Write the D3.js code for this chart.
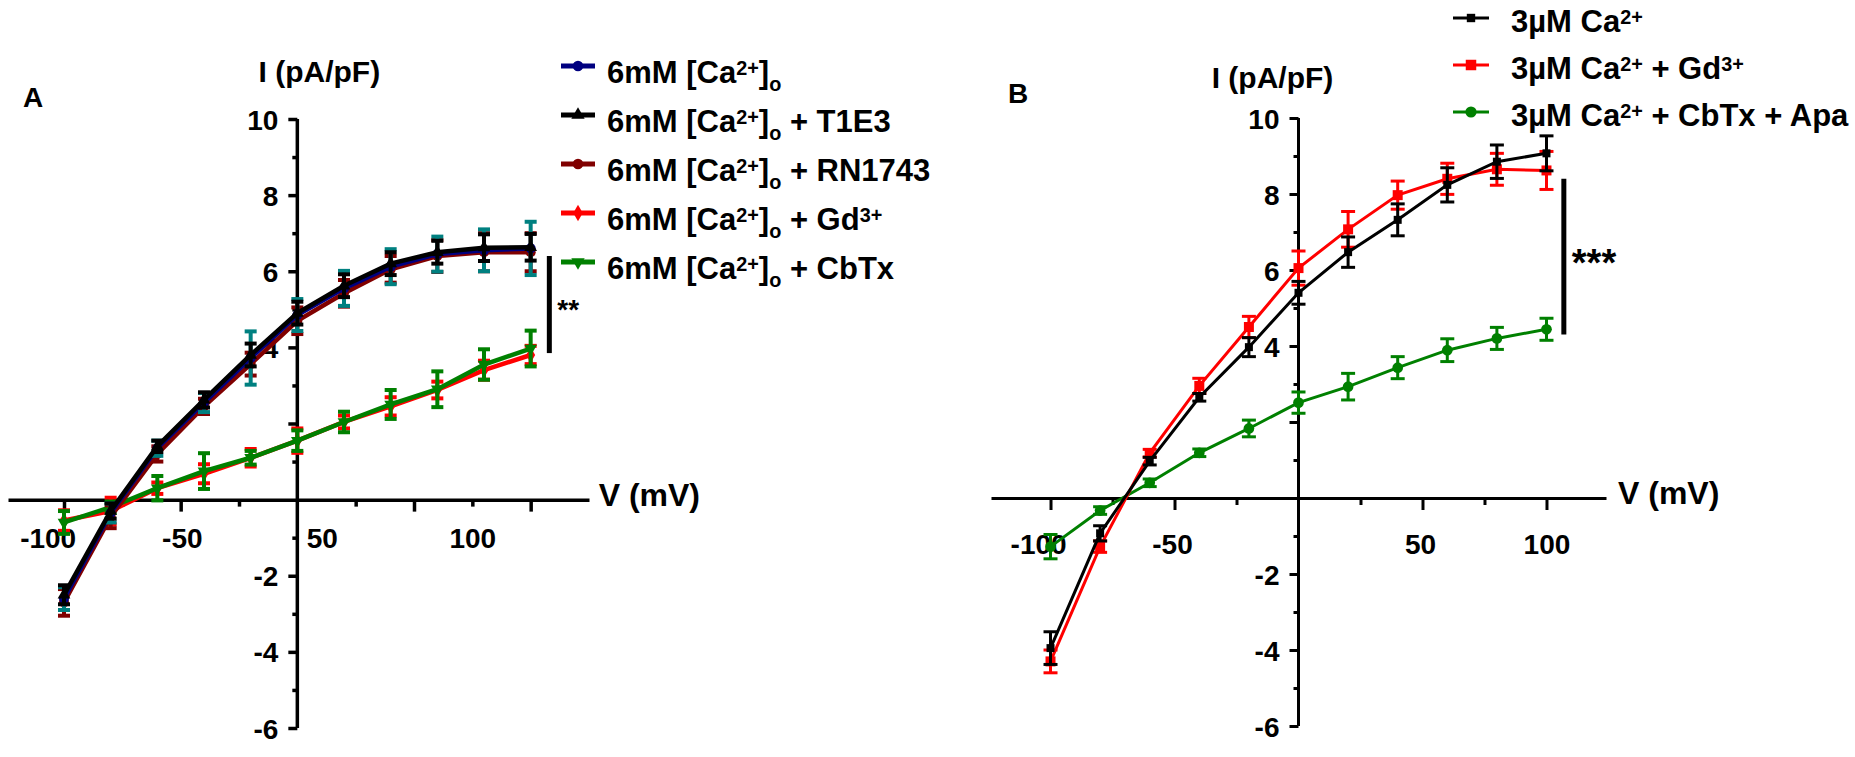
<!DOCTYPE html>
<html>
<head>
<meta charset="utf-8">
<script src="https://cdn.jsdelivr.net/npm/d3@7"></script>
<style>
  body { margin: 0; background: #fff; }
  svg text { font-family: "Liberation Sans", Arial, Helvetica, sans-serif; font-weight: bold; fill: #000; }
</style>
</head>
<body>
<div id="container"></div>
<script>
// membrane potential steps (mV), shared by both panels
const voltages = [-100, -80, -60, -40, -20, 0, 20, 40, 60, 80, 100];

// panel A, current density (pA/pF) and SEM
const ca6Mean     = [-2.6, -0.35, 1.35, 2.55, 3.72, 4.85, 5.55, 6.12, 6.45, 6.55, 6.6];
const ca6Sem      = [0.3, 0.25, 0.2, 0.25, 0.7, 0.42, 0.46, 0.46, 0.46, 0.55, 0.7];
const t1e3Mean    = [-2.5, -0.3, 1.4, 2.62, 3.8, 4.9, 5.62, 6.2, 6.5, 6.62, 6.63];
const t1e3Sem     = [0.25, 0.2, 0.15, 0.2, 0.3, 0.3, 0.3, 0.3, 0.3, 0.35, 0.35];
const rn1743Mean  = [-2.7, -0.45, 1.2, 2.45, 3.56, 4.7, 5.42, 6.05, 6.4, 6.5, 6.5];
const rn1743Sem   = [0.35, 0.3, 0.2, 0.2, 0.3, 0.35, 0.35, 0.35, 0.42, 0.5, 0.5];
const gdAMean     = [-0.55, -0.3, 0.3, 0.68, 1.1, 1.55, 2.04, 2.45, 2.88, 3.4, 3.8];
const gdASem      = [0.27, 0.35, 0.15, 0.25, 0.23, 0.32, 0.17, 0.24, 0.22, 0.25, 0.24];
const cbtxAMean   = [-0.6, -0.2, 0.3, 0.75, 1.1, 1.55, 2.04, 2.5, 2.9, 3.55, 3.97];
const cbtxASem    = [0.3, 0.15, 0.32, 0.47, 0.18, 0.27, 0.27, 0.38, 0.47, 0.4, 0.47];

// panel B
const ca3Mean     = [-3.95, -0.93, 0.97, 2.65, 3.97, 5.4, 6.47, 7.32, 8.24, 8.85, 9.07];
const ca3Sem      = [0.43, 0.2, 0.1, 0.1, 0.25, 0.3, 0.4, 0.42, 0.45, 0.44, 0.46];
const gdBMean     = [-4.3, -1.28, 1.18, 2.95, 4.5, 6.05, 7.07, 7.97, 8.4, 8.65, 8.62];
const gdBSem      = [0.3, 0.15, 0.1, 0.2, 0.28, 0.45, 0.47, 0.37, 0.41, 0.42, 0.5];
const cbtxApaMean = [-1.28, -0.33, 0.4, 1.19, 1.83, 2.51, 2.93, 3.43, 3.89, 4.2, 4.44];
const cbtxApaSem  = [0.32, 0.1, 0.1, 0.1, 0.22, 0.28, 0.35, 0.29, 0.3, 0.29, 0.29];

// axis ticks and labels
const yMajor = [-6, -4, -2, 2, 4, 6, 8, 10];
const yMinor = [-5, -3, -1, 1, 3, 5, 7, 9];
const yLabels = [10, 8, 6, 4, -2, -4, -6];
const xMajor = [-100, -50, 50, 100];
const xMinor = [-75, -25, 25, 75];
const xLabels = ["-100", "-50", "50", "100"];
const xLabelAtA = [-107, -49.5, 10.5, 75];   // where panel A prints its labels
const xLabelAtB = [-105, -51, 49, 100];

// legends, parts: [text, "sup" | "sub"]
const legendA = [
  [["6mM [Ca"], ["2+", "sup"], ["]"], ["o", "sub"]],
  [["6mM [Ca"], ["2+", "sup"], ["]"], ["o", "sub"], [" + T1E3"]],
  [["6mM [Ca"], ["2+", "sup"], ["]"], ["o", "sub"], [" + RN1743"]],
  [["6mM [Ca"], ["2+", "sup"], ["]"], ["o", "sub"], [" + Gd"], ["3+", "sup"]],
  [["6mM [Ca"], ["2+", "sup"], ["]"], ["o", "sub"], [" + CbTx"]]
];
const legendB = [
  [["3\u00b5M Ca"], ["2+", "sup"]],
  [["3\u00b5M Ca"], ["2+", "sup"], [" + Gd"], ["3+", "sup"]],
  [["3\u00b5M Ca"], ["2+", "sup"], [" + CbTx + Apa"]]
];

const W = 1855, H = 757;

const svg = d3.select("#container")
  .append("svg")
  .attr("width", W)
  .attr("height", H)
  .style("display", "block");

svg.append("rect").attr("width", W).attr("height", H).attr("fill", "#fff");

function richText(sel, parts, size) {
  let shift = 0;
  parts.forEach(([t, kind]) => {
    const target = kind === "sup" ? -size * 0.27 : kind === "sub" ? size * 0.25 : 0;
    sel.append("tspan")
      .attr("dy", target - shift)
      .attr("font-size", kind ? size * 0.64 : size)
      .text(t);
    shift = target;
  });
}

function drawAxes(p) {
  const x0 = p.x(0), y0 = p.y(0);

  // y axis
  const ya = svg.append("g")
    .attr("transform", "translate(" + x0 + ",0)")
    .call(d3.axisLeft(p.y).tickValues(yMajor).tickSize(9).tickSizeOuter(0)
      .tickFormat(d => yLabels.includes(d) ? String(d) : ""));
  ya.select(".domain").attr("stroke-width", p.axisW).attr("d", "M0," + p.y(10) + "V" + p.y(-6));
  ya.selectAll(".tick line").attr("stroke-width", p.axisW);
  ya.selectAll(".tick text").attr("x", -19).attr("font-size", 28).attr("dy", "0.36em");

  const ym = svg.append("g")
    .attr("transform", "translate(" + x0 + ",0)")
    .call(d3.axisLeft(p.y).tickValues(yMinor).tickSize(5).tickFormat(""));
  ym.select(".domain").remove();
  ym.selectAll(".tick line").attr("stroke-width", p.axisW);

  // x axis
  const xa = svg.append("g")
    .attr("transform", "translate(0," + y0 + ")")
    .call(d3.axisBottom(p.x).tickValues(xMajor).tickSize(12).tickSizeOuter(0).tickFormat(""));
  xa.select(".domain").attr("stroke-width", p.axisW);
  xa.selectAll(".tick line").attr("stroke-width", p.axisW);

  const xm = svg.append("g")
    .attr("transform", "translate(0," + y0 + ")")
    .call(d3.axisBottom(p.x).tickValues(xMinor).tickSize(7).tickFormat(""));
  xm.select(".domain").remove();
  xm.selectAll(".tick line").attr("stroke-width", p.axisW);

  const xl = svg.append("g")
    .attr("transform", "translate(0," + y0 + ")")
    .call(d3.axisBottom(p.x).tickValues(p.labelAt).tickSize(0)
      .tickFormat((d, i) => xLabels[i]));
  xl.select(".domain").remove();
  xl.selectAll(".tick text").attr("y", p.labelDrop).attr("dy", null).attr("font-size", 28);

  // titles
  svg.append("text")
    .attr("x", x0 + p.titleDx).attr("y", p.titleY)
    .attr("text-anchor", "middle").attr("font-size", 30)
    .text("I (pA/pF)");
  svg.append("text")
    .attr("x", p.x(124) + 12).attr("y", y0 + 6)
    .attr("font-size", 32)
    .text("V (mV)");
  svg.append("text")
    .attr("x", p.letterX).attr("y", p.letterY)
    .attr("font-size", 28)
    .text(p.letter);
}

function drawSeries(p, s) {
  const g = svg.append("g");
  const pts = voltages.map((v, i) => ({ v: v, m: s.mean[i], e: s.sem[i] }));

  g.append("path")
    .datum(pts)
    .attr("fill", "none")
    .attr("stroke", s.color)
    .attr("stroke-width", p.lineW)
    .attr("d", d3.line().x(d => p.x(d.v)).y(d => p.y(d.m)));

  const eb = g.selectAll(".err").data(pts).enter().append("g")
    .attr("stroke", s.errColor || s.color)
    .attr("stroke-width", p.errW);
  eb.append("line")
    .attr("x1", d => p.x(d.v)).attr("x2", d => p.x(d.v))
    .attr("y1", d => p.y(d.m + d.e)).attr("y2", d => p.y(d.m - d.e));
  eb.append("line")
    .attr("x1", d => p.x(d.v) - p.cap).attr("x2", d => p.x(d.v) + p.cap)
    .attr("y1", d => p.y(d.m + d.e)).attr("y2", d => p.y(d.m + d.e));
  eb.append("line")
    .attr("x1", d => p.x(d.v) - p.cap).attr("x2", d => p.x(d.v) + p.cap)
    .attr("y1", d => p.y(d.m - d.e)).attr("y2", d => p.y(d.m - d.e));

  g.selectAll(".pt").data(pts).enter().append("path")
    .attr("d", d3.symbol().type(s.symbol).size(s.size))
    .attr("transform", d => "translate(" + p.x(d.v) + "," + p.y(d.m) + ")" + (s.flip ? " rotate(180)" : ""))
    .attr("fill", s.color);
}

function drawLegend(items, lg) {
  items.forEach((s, i) => {
    const base = lg.y0 + i * lg.step;
    const ly = base - lg.lineUp;
    svg.append("line")
      .attr("x1", lg.x1).attr("x2", lg.x2)
      .attr("y1", ly).attr("y2", ly)
      .attr("stroke", s.color).attr("stroke-width", lg.lineW);
    svg.append("path")
      .attr("d", d3.symbol().type(s.symbol).size(s.size * 1.1))
      .attr("transform", "translate(" + ((lg.x1 + lg.x2) / 2) + "," + ly + ")" + (s.flip ? " rotate(180)" : ""))
      .attr("fill", s.color);
    const t = svg.append("text")
      .attr("x", lg.tx).attr("y", base)
      .attr("font-size", lg.size);
    richText(t, s.label, lg.size);
  });
}

function sigBar(p, xv, top, bottom, stars, size) {
  svg.append("line")
    .attr("x1", p.x(xv)).attr("x2", p.x(xv))
    .attr("y1", p.y(top)).attr("y2", p.y(bottom))
    .attr("stroke", "#000").attr("stroke-width", 5);
  svg.append("text")
    .attr("x", p.x(xv) + 8)
    .attr("y", p.y((top + bottom) / 2) + size * 0.52)
    .attr("font-size", size)
    .text(stars);
}

// ---------- panel A ----------
const panelA = {
  x: d3.scaleLinear().domain([-124, 125]).range([8, 589]),
  y: d3.scaleLinear().domain([-6, 10]).range([728, 119]),
  labelAt: xLabelAtA, labelDrop: 48,
  titleDx: 22, titleY: 82, letter: "A", letterX: 23, letterY: 107,
  axisW: 3.5, lineW: 4.5, errW: 4, cap: 6
};

const seriesA = [
  { label: legendA[3], mean: gdAMean, sem: gdASem, color: "#ff0000", symbol: d3.symbolDiamond, size: 70 },
  { label: legendA[4], mean: cbtxAMean, sem: cbtxASem, color: "#008000", symbol: d3.symbolTriangle, flip: true, size: 70 },
  { label: legendA[2], mean: rn1743Mean, sem: rn1743Sem, color: "#800000", symbol: d3.symbolCircle, size: 80 },
  { label: legendA[0], mean: ca6Mean, sem: ca6Sem, color: "#000080", errColor: "#008080", symbol: d3.symbolCircle, size: 80 },
  { label: legendA[1], mean: t1e3Mean, sem: t1e3Sem, color: "#000000", symbol: d3.symbolTriangle, size: 70 }
];

drawAxes(panelA);
seriesA.forEach(s => drawSeries(panelA, s));
sigBar(panelA, 108, 6.4, 3.85, "**", 28);
drawLegend([seriesA[3], seriesA[4], seriesA[2], seriesA[0], seriesA[1]],
  { x1: 561, x2: 595, tx: 607, y0: 83, step: 49, lineUp: 17, lineW: 5, size: 31 });

// ---------- panel B ----------
const panelB = {
  x: d3.scaleLinear().domain([-124, 124]).range([991, 1606]),
  y: d3.scaleLinear().domain([-6, 10]).range([726, 118]),
  labelAt: xLabelAtB, labelDrop: 56,
  titleDx: -26, titleY: 88, letter: "B", letterX: 1008, letterY: 103,
  axisW: 3, lineW: 3, errW: 3, cap: 7
};

const seriesB = [
  { label: legendB[2], mean: cbtxApaMean, sem: cbtxApaSem, color: "#008000", symbol: d3.symbolCircle, size: 90 },
  { label: legendB[1], mean: gdBMean, sem: gdBSem, color: "#ff0000", symbol: d3.symbolSquare, size: 100 },
  { label: legendB[0], mean: ca3Mean, sem: ca3Sem, color: "#000000", symbol: d3.symbolSquare, size: 64 }
];

drawAxes(panelB);
seriesB.forEach(s => drawSeries(panelB, s));
sigBar(panelB, 107, 8.4, 4.3, "***", 38);
drawLegend([seriesB[2], seriesB[1], seriesB[0]],
  { x1: 1453, x2: 1489, tx: 1511, y0: 32, step: 47, lineUp: 14, lineW: 3, size: 31 });
</script>
</body>
</html>
